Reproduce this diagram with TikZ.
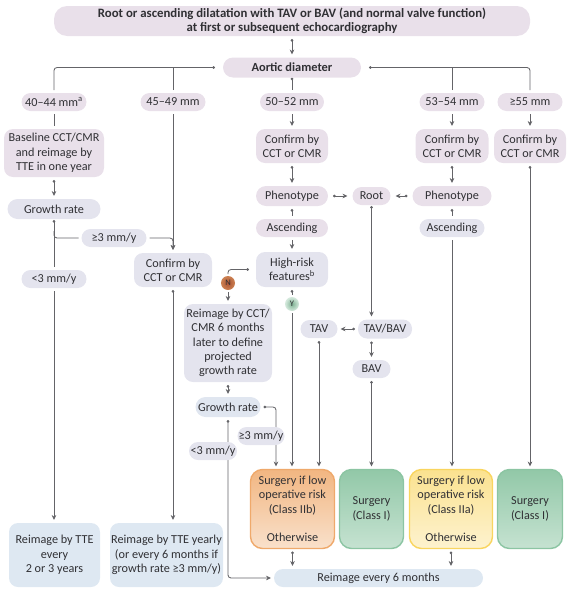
\documentclass[tikz,border=0pt]{standalone}
\usepackage{fontspec}
\setmainfont{Carlito}
\usepackage{xcolor}
\usepackage{tikz}
\usetikzlibrary{arrows.meta,backgrounds}

\definecolor{inktext}{HTML}{303034}
\definecolor{inkline}{HTML}{646468}
\definecolor{fillpink}{HTML}{E9E0EA}
\definecolor{filllilac}{HTML}{E4E4EE}
\definecolor{fillblue}{HTML}{DEE8F2}
\definecolor{boxgreen}{HTML}{8CC5A3}
\definecolor{boxorange}{HTML}{EFA96B}
\definecolor{boxyellow}{HTML}{F9D55F}

\tikzset{
    pill/.style={rounded corners=9pt, fill=filllilac, text=inktext, align=center,
        inner sep=0pt, outer sep=3pt, font=\fontsize{12.2}{14.3}\selectfont},
    pinkpill/.style={pill, fill=fillpink},
    bluepill/.style={pill, fill=fillblue},
    greenbox/.style={pill, rounded corners=12pt, line width=1.4pt, draw=boxgreen,
        top color=boxgreen!95!white, bottom color=boxgreen!50!white},
    orangebox/.style={pill, rounded corners=12pt, line width=1.4pt, draw=boxorange,
        top color=boxorange!85!white, bottom color=boxorange!35!white},
    yellowbox/.style={pill, rounded corners=12pt, line width=1.4pt, draw=boxyellow,
        top color=boxyellow!70!white, bottom color=boxyellow!30!white},
    dotarrow/.style={{Circle[length=2.6pt]}-{Stealth[length=5pt,width=4.6pt]}, draw=inkline, line width=0.85pt, rounded corners=3pt},
    plainarrow/.style={-{Stealth[length=5pt,width=4.6pt]}, draw=inkline, line width=0.85pt, rounded corners=3pt},
    dotline/.style={{Circle[length=2.6pt]}-, draw=inkline, line width=0.85pt, rounded corners=3pt},
    plainline/.style={draw=inkline, line width=0.85pt, rounded corners=3pt},
    badge/.style={circle, minimum size=14pt, inner sep=0pt, outer sep=2pt, text=inktext,
        font=\fontsize{8.5}{9}\selectfont},
}

\begin{document}
\begin{tikzpicture}[x=1pt,y=-1pt]
    \useasboundingbox (0,0) rectangle (583,600);

    \node[pinkpill, minimum width=476pt, minimum height=30pt, rounded corners=13pt, font=\fontsize{12.8}{14.5}\selectfont\bfseries] (start) at (292,21) {Root or ascending dilatation with TAV or BAV (and normal valve function)\\at first or subsequent echocardiography};
    \node[pinkpill, minimum width=138pt, minimum height=20pt, rounded corners=10pt, font=\fontsize{12.4}{14.3}\selectfont\bfseries] (aortic) at (292,67.5) {Aortic diameter};

    \node[pinkpill, minimum width=65pt, minimum height=18pt] (sizea) at (54,102) {40–44 mm\textsuperscript{a}};
    \node[pinkpill, minimum width=65pt, minimum height=18pt] (sizeb) at (173,102) {45–49 mm};
    \node[pinkpill, minimum width=64pt, minimum height=18pt] (sizec) at (292,102) {50–52 mm};
    \node[pinkpill, minimum width=65pt, minimum height=18pt] (sized) at (452,102) {53–54 mm};
    \node[pinkpill, minimum width=65pt, minimum height=18pt] (sizee) at (530,102) {≥55 mm};

    \node[pinkpill, minimum width=100pt, minimum height=48pt] (baseline) at (54,153) {Baseline CCT/CMR\\and reimage by\\TTE in one year};
    \node[pinkpill, minimum width=72pt, minimum height=34pt] (confirmc) at (292,146) {Confirm by\\CCT or CMR};
    \node[pinkpill, minimum width=73pt, minimum height=34pt] (confirmd) at (452,146) {Confirm by\\CCT or CMR};
    \node[pinkpill, minimum width=72pt, minimum height=34pt] (confirme) at (530,146) {Confirm by\\CCT or CMR};

    \node[pill, minimum width=93pt, minimum height=20pt, rounded corners=10pt] (growtha) at (54,209) {Growth rate};
    \node[pill, minimum width=65pt, minimum height=18pt] (fasta) at (114,238) {≥3 mm/y};
    \node[pill, minimum width=65pt, minimum height=18pt] (slowa) at (54,279) {<3 mm/y};
    \node[pill, minimum width=78pt, minimum height=34pt] (confirmb) at (173,270) {Confirm by\\CCT or CMR};

    \node[pinkpill, minimum width=72pt, minimum height=20pt, rounded corners=10pt] (phenoc) at (292,196) {Phenotype};
    \node[pinkpill, minimum width=72pt, minimum height=18pt] (ascendc) at (292,228) {Ascending};
    \node[pill, minimum width=72pt, minimum height=35pt] (highrisk) at (292,269.5) {High-risk\\features\textsuperscript{b}};
    \node[pinkpill, minimum width=38pt, minimum height=18pt] (root) at (371.5,196) {Root};
    \node[pinkpill, minimum width=79pt, minimum height=20pt, rounded corners=10pt] (phenod) at (452,196) {Phenotype};
    \node[pill, minimum width=65pt, minimum height=18pt] (ascendd) at (452,228) {Ascending};

    \node[badge, inner color=boxorange!70!red!70!black, outer color=boxorange!90!red!85!black] (no) at (228,283) {N};
    \node[badge, inner color=boxgreen!90!black, outer color=boxgreen!35!white] (yes) at (292,304) {Y};

    \node[pill, minimum width=88pt, minimum height=78pt] (reimagect) at (228,343) {Reimage by CCT/\\CMR 6 months\\later to define\\projected\\growth rate};
    \node[pill, minimum width=65pt, minimum height=20pt, rounded corners=10pt, fill=fillblue!60!filllilac] (growthb) at (228,407) {Growth rate};
    \node[pill, minimum width=47pt, minimum height=18pt] (fastb) at (261,436) {≥3 mm/y};
    \node[pill, minimum width=48pt, minimum height=18pt] (slowb) at (213,451) {<3 mm/y};

    \node[pill, minimum width=37pt, minimum height=18pt] (tav) at (319,329) {TAV};
    \node[pill, minimum width=54pt, minimum height=19pt] (tavbav) at (385,329) {TAV/BAV};
    \node[pill, minimum width=38pt, minimum height=18pt] (bav) at (371.5,369) {BAV};

    \node[orangebox, minimum width=84pt, minimum height=79pt] (surgb) at (292.5,509) {Surgery if low\\operative risk\\(Class IIb)\\ \\Otherwise};
    \node[greenbox, minimum width=64pt, minimum height=79pt] (surgc) at (371.5,509) {Surgery\\(Class I)};
    \node[yellowbox, minimum width=83pt, minimum height=79pt] (surgd) at (451,509) {Surgery if low\\operative risk\\(Class IIa)\\ \\Otherwise};
    \node[greenbox, minimum width=65pt, minimum height=79pt] (surge) at (530,509) {Surgery\\(Class I)};

    \node[bluepill, minimum width=91pt, minimum height=64pt] (ttea) at (54.5,555) {Reimage by TTE\\every\\2 or 3 years};
    \node[bluepill, minimum width=113pt, minimum height=64pt] (tteb) at (166.5,555) {Reimage by TTE yearly\\(or every 6 months if\\growth rate ≥3 mm/y)};
    \node[bluepill, minimum width=209pt, minimum height=18pt] (reimage) at (378.5,578) {Reimage every 6 months};

    \begin{scope}[on background layer]
        \draw[dotarrow] (start.south) -- (aortic.north);
        \draw[dotline] ([xshift=-5pt]aortic.west) -| (sizea.north);
        \draw[plainline] (sizeb.north) -- (sizeb.north |- aortic.west);
        \draw[dotline] ([yshift=3pt]aortic.south) -- (sizec.north);
        \draw[dotline] ([xshift=5pt]aortic.east) -| (sizee.north);
        \draw[plainline] (sized.north) -- (sized.north |- aortic.east);

        \draw[plainline] (sizea.south) -- (baseline.north);
        \draw[plainarrow] (sizeb.south) -- (confirmb.north);
        \draw[plainarrow] (sizec.south) -- (confirmc.north);
        \draw[plainarrow] (sized.south) -- (confirmd.north);
        \draw[plainarrow] (sizee.south) -- (confirme.north);

        \draw[dotarrow] (baseline.south) -- (growtha.north);
        \draw[dotline] ([yshift=2pt]growtha.south) -- (slowa.north);
        \draw[plainline] (54,231) |- (fasta.west);
        \draw[plainarrow] (fasta.east) -| (confirmb.north);
        \draw[plainarrow] (slowa.south) -- (ttea.north -| slowa.south);
        \draw[dotarrow] (confirmb.south) -- (confirmb.south |- tteb.north);

        \draw[dotarrow] (confirmc.south) -- (phenoc.north);
        \draw[dotline] (phenoc.south) -- (ascendc.north);
        \draw[plainarrow] (ascendc.south) -- (highrisk.north);
        \draw[dotline] (highrisk.south) -- (yes.north);
        \draw[-{Circle[length=2.6pt]}, plainline] (no.north) |- ([xshift=-4pt]highrisk.west);
        \draw[plainarrow] (no.south) -- (reimagect.north);
        \draw[plainarrow] (yes.south) -- (surgb.north -| yes.south);

        \draw[dotarrow] ([xshift=2pt]phenoc.east) -- ([xshift=-2pt]root.west);
        \draw[dotarrow] ([xshift=-2pt]phenod.west) -- ([xshift=2pt]root.east);
        \draw[dotarrow] ([yshift=2pt]root.south) -- (root.south |- tavbav.north);
        \draw[dotarrow] (tavbav.west) -- (tav.east);
        \draw[dotarrow] (tavbav.south -| bav.north) -- (bav.north);
        \draw[dotarrow] (tav.south) -- (tav.south |- surgb.north);
        \draw[dotarrow] (bav.south) -- (surgc.north);

        \draw[dotarrow] (confirmd.south) -- (phenod.north);
        \draw[dotline] (phenod.south) -- (ascendd.north);
        \draw[plainarrow] (ascendd.south) -- (ascendd.south |- surgd.north);
        \draw[dotarrow] (confirme.south) -- (surge.north);

        \draw[dotarrow] (reimagect.south) -- (growthb.north);
        \draw[dotarrow] (growthb.east) -| ([xshift=-16.5pt]surgb.north);
        \draw[dotarrow] (growthb.south) |- (reimage.west);
        \draw[dotarrow] (surgb.south) -- (surgb.south |- reimage.north);
        \draw[dotarrow] (surgd.south) -- (surgd.south |- reimage.north);
    \end{scope}
\end{tikzpicture}
\end{document}
